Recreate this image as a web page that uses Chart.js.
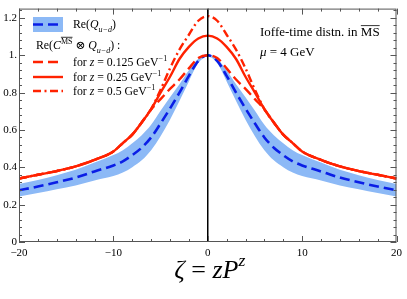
<!DOCTYPE html>
<html lang="en">
<head>
<meta charset="UTF-8">
<title>Ioffe-time distribution</title>
<script src="https://cdn.jsdelivr.net/npm/chart.js"></script>
<style>
  html, body { margin: 0; padding: 0; background: #fff; }
  #wrap { width: 407px; height: 299px; }
</style>
</head>
<body>
<div id="wrap"><canvas id="chart"></canvas></div>
<script>
// zeta = z P^z sample points
var zeta = [-20, -18, -16, -14, -12, -10, -9, -8, -7, -6, -5, -4, -3, -2, -1, 0, 1, 2, 3, 4, 5, 6, 7, 8, 9, 10, 12, 14, 16, 18, 20];
// Re(Q_{u-d}): central value and band
var reQ     = [0.277, 0.297, 0.320, 0.345, 0.378, 0.410, 0.432, 0.465, 0.505, 0.560, 0.635, 0.715, 0.800, 0.890, 0.970, 1.000, 0.970, 0.890, 0.800, 0.715, 0.635, 0.560, 0.505, 0.465, 0.432, 0.410, 0.378, 0.345, 0.320, 0.297, 0.277];
var reQLow  = [0.244, 0.262, 0.282, 0.303, 0.330, 0.354, 0.372, 0.401, 0.438, 0.492, 0.567, 0.655, 0.755, 0.860, 0.958, 0.995, 0.958, 0.860, 0.755, 0.655, 0.567, 0.492, 0.438, 0.401, 0.372, 0.354, 0.330, 0.303, 0.282, 0.262, 0.244];
var reQHigh = [0.310, 0.332, 0.358, 0.387, 0.426, 0.466, 0.492, 0.529, 0.572, 0.628, 0.703, 0.775, 0.845, 0.920, 0.982, 1.005, 0.982, 0.920, 0.845, 0.775, 0.703, 0.628, 0.572, 0.529, 0.492, 0.466, 0.426, 0.387, 0.358, 0.332, 0.310];
// Re(C (x) Q) for three z values
var z0125 = [0.340, 0.360, 0.380, 0.405, 0.440, 0.485, 0.530, 0.575, 0.640, 0.710, 0.765, 0.820, 0.870, 0.930, 0.985, 1.000, 0.985, 0.930, 0.870, 0.820, 0.765, 0.710, 0.640, 0.575, 0.530, 0.485, 0.440, 0.405, 0.380, 0.360, 0.340];
var z025  = [0.340, 0.360, 0.380, 0.405, 0.440, 0.485, 0.530, 0.575, 0.640, 0.712, 0.800, 0.885, 0.980, 1.045, 1.090, 1.105, 1.090, 1.045, 0.980, 0.885, 0.800, 0.712, 0.640, 0.575, 0.530, 0.485, 0.440, 0.405, 0.380, 0.360, 0.340];
var z05   = [0.340, 0.360, 0.380, 0.405, 0.440, 0.485, 0.530, 0.575, 0.640, 0.712, 0.815, 0.930, 1.030, 1.110, 1.185, 1.210, 1.185, 1.110, 1.030, 0.930, 0.815, 0.712, 0.640, 0.575, 0.530, 0.485, 0.440, 0.405, 0.380, 0.360, 0.340];

var xMin = -20, xMax = 20, yMin = 0, yMax = 1.25;

var RED = '#ff2200';
var BLUE = '#0a1ee6';
var BAND = '#8cb9f6';
var SERIF = '"Liberation Serif", "DejaVu Serif", serif';

function pts(ys) {
    return zeta.map(function (x, i) { return { x: x, y: ys[i] }; });
}

function curve(ys, color, width, dash, order) {
    return {
        data: pts(ys),
        borderColor: color,
        borderWidth: width,
        borderDash: dash,
        pointRadius: 0,
        cubicInterpolationMode: 'monotone',
        fill: false,
        order: order
    };
}

// draws a run of text pieces (italic / sub / sup / overline)
function rich(ctx, x, y, parts, size, measureOnly) {
    var x0 = x;
    parts.forEach(function (p) {
        var s = (p.sub || p.sup) ? size * 0.68 : size;
        var dy = p.sub ? size * 0.3 : (p.sup ? -size * 0.45 : 0);
        ctx.font = (p.it ? 'italic ' : '') + s + 'px ' + SERIF;
        var w = ctx.measureText(p.t).width;
        if (!measureOnly) {
            ctx.fillText(p.t, x, y + dy);
            if (p.over) {
                ctx.beginPath();
                ctx.lineWidth = 0.8;
                ctx.moveTo(x, y + dy - s * 0.8);
                ctx.lineTo(x + w, y + dy - s * 0.8);
                ctx.stroke();
            }
        }
        x += w;
    });
    return x - x0;
}

function sample(ctx, y, color, width, dash) {
    ctx.save();
    ctx.strokeStyle = color;
    ctx.lineWidth = width;
    ctx.setLineDash(dash);
    ctx.beginPath();
    ctx.moveTo(33, y);
    ctx.lineTo(63, y);
    ctx.stroke();
    ctx.restore();
}

var decor = {
    id: 'decor',
    afterDraw: function (chart) {
        var ctx = chart.ctx;
        var a = chart.chartArea;
        var xs = chart.scales.x, ys = chart.scales.y;
        ctx.save();

        // frame and inward ticks
        ctx.strokeStyle = '#555';
        ctx.lineWidth = 1;
        ctx.strokeRect(a.left + 0.5, a.top + 0.5, a.right - a.left - 1, a.bottom - a.top - 1);
        ctx.beginPath();
        var v, p, len;
        for (v = xMin; v <= xMax; v += 2) {
            p = Math.round(xs.getPixelForValue(v)) + 0.5;
            len = (v % 10 === 0) ? 6 : 3;
            ctx.moveTo(p, a.bottom); ctx.lineTo(p, a.bottom - len);
            ctx.moveTo(p, a.top); ctx.lineTo(p, a.top + len);
        }
        for (var k = 0; k <= 31; k++) {
            v = k * 0.04;
            p = Math.round(ys.getPixelForValue(v)) + 0.5;
            len = (k % 5 === 0) ? 6 : 3;
            ctx.moveTo(a.left, p); ctx.lineTo(a.left + len, p);
            ctx.moveTo(a.right, p); ctx.lineTo(a.right - len, p);
        }
        ctx.stroke();

        // legend
        ctx.fillStyle = BAND;
        ctx.fillRect(33, 17, 30, 15);
        sample(ctx, 24.5, BLUE, 2.6, [10, 5]);
        sample(ctx, 62, RED, 2.4, [10, 5]);
        sample(ctx, 77, RED, 2.4, []);
        sample(ctx, 91, RED, 2.4, [8, 3.5, 2, 3.5]);

        ctx.fillStyle = '#000';
        ctx.strokeStyle = '#000';
        ctx.textBaseline = 'alphabetic';
        var fs = 11.8;
        rich(ctx, 73, 28, [{ t: 'Re(' }, { t: 'Q', it: true }, { t: 'u\u2212d', it: true, sub: true }, { t: ')' }], fs);
        rich(ctx, 36, 49, [{ t: 'Re(' }, { t: 'C', it: true }, { t: 'MS', sup: true, over: true },
            { t: ' \u2297 ' }, { t: 'Q', it: true }, { t: 'u\u2212d', it: true, sub: true }, { t: ') :' }], fs);
        var rows = [['0.125', 66], ['0.25', 81], ['0.5', 95]];
        rows.forEach(function (r) {
            rich(ctx, 73, r[1], [{ t: 'for ' }, { t: 'z', it: true }, { t: ' = ' + r[0] + ' GeV' }, { t: '\u22121', sup: true }], fs);
        });

        // annotation
        rich(ctx, 260, 36, [{ t: 'Ioffe-time distn. in ' }, { t: 'MS', over: true }], 13);
        rich(ctx, 260, 56, [{ t: '\u03bc', it: true }, { t: ' = 4 GeV' }], 13);

        // x axis title
        var title = [{ t: '\u03b6', it: true }, { t: ' = ' }, { t: 'zP', it: true }, { t: 'z', it: true, sup: true }];
        var tw = rich(ctx, 0, 0, title, 26, true);
        rich(ctx, (a.left + a.right) / 2 - tw / 2 + 2, 278, title, 26);

        ctx.restore();
    }
};

new Chart(document.getElementById('chart'), {
    type: 'line',
    data: {
        datasets: [
            {
                data: [{ x: 0, y: yMin }, { x: 0, y: yMax }],
                borderColor: '#000', borderWidth: 1.5, pointRadius: 0, fill: false, order: 0
            },
            curve(z05, RED, 2.4, [8, 3.5, 2, 3.5], 1),
            curve(z025, RED, 2.4, [], 1),
            curve(z0125, RED, 2.4, [10, 5], 1),
            curve(reQ, BLUE, 2.6, [10, 5], 2),
            {
                data: pts(reQLow), borderWidth: 0, borderColor: BAND, pointRadius: 0,
                cubicInterpolationMode: 'monotone', fill: false, order: 3
            },
            {
                data: pts(reQHigh), borderWidth: 0, borderColor: BAND, backgroundColor: BAND, pointRadius: 0,
                cubicInterpolationMode: 'monotone', fill: '-1', order: 3
            }
        ]
    },
    options: {
        responsive: true,
        maintainAspectRatio: false,
        animation: false,
        layout: { padding: { top: 7, right: 8, left: 0, bottom: 0 } },
        plugins: { legend: { display: false }, tooltip: { enabled: false } },
        scales: {
            x: {
                type: 'linear', min: xMin, max: xMax,
                grid: { display: false, drawTicks: false },
                border: { display: false },
                ticks: {
                    stepSize: 10, maxRotation: 0, padding: 5, color: '#000',
                    font: { family: SERIF, size: 11 },
                    callback: function (v) { return v < 0 ? '\u2212' + Math.abs(v) : String(v); }
                },
                afterFit: function (s) { s.height = 57; }
            },
            y: {
                type: 'linear', min: yMin, max: yMax,
                grid: { display: false, drawTicks: false },
                border: { display: false },
                ticks: {
                    stepSize: 0.2, includeBounds: false, padding: 2, color: '#000',
                    font: { family: SERIF, size: 11 },
                    callback: function (v) {
                        if (Math.abs(v) < 1e-9) return '0';
                        if (Math.abs(v - 1) < 1e-9) return '1.';
                        return v.toFixed(1);
                    }
                },
                afterFit: function (s) { s.width = 19; }
            }
        }
    },
    plugins: [decor]
});
</script>
</body>
</html>
